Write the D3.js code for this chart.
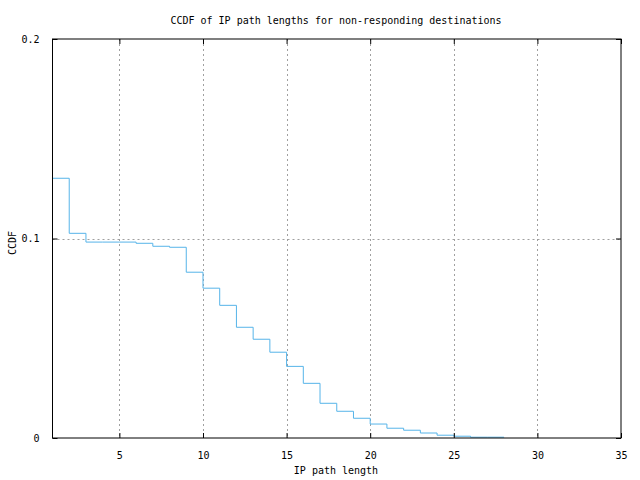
<!DOCTYPE html>
<html>
<head>
<meta charset="utf-8">
<script src="https://cdn.jsdelivr.net/npm/d3@7"></script>
<style>
body{margin:0;background:#fff;}
text{font-family:"DejaVu Sans Mono",monospace;font-size:10px;fill:#000;}
</style>
</head>
<body>
<svg id="c" width="640" height="480"></svg>
<script>
const pathLength = [1,2,3,4,5,6,7,8,9,10,11,12,13,14,15,16,17,18,19,20,21,22,23,24,25,26,27,28];
const ccdf = [0.1302,0.1026,0.0982,0.0982,0.0982,0.0976,0.0961,0.0956,0.0831,0.0751,0.0665,0.0555,0.0495,0.0430,0.0359,0.0274,0.0174,0.0134,0.0099,0.0070,0.0049,0.0039,0.0025,0.0014,0.0009,0.0004,0.0004,0.0003];
const xTicks = [5,10,15,20,25,30,35];
const yTicks = [0,0.1,0.2];
const yTickLabels = ["0","0.1","0.2"];
const title = "CCDF of IP path lengths for non-responding destinations";
const xLabel = "IP path length";
const yLabel = "CCDF";

const svg = d3.select("#c");
const L=52.5, R=621, T=39, B=438;
const x = d3.scaleLinear().domain([1,35]).range([L,R]);
const y = d3.scaleLinear().domain([0,0.2]).range([B,T]);

// grid
const g = svg.append("g");
xTicks.filter(t=>t<35).forEach(t=>{
  g.append("line").attr("x1",Math.round(x(t))+0.5).attr("x2",Math.round(x(t))+0.5)
   .attr("y1",T).attr("y2",B).attr("stroke","#a0a0a0").attr("stroke-width",1).attr("stroke-dasharray","2,3");
});
yTicks.filter(t=>t>0&&t<0.2).forEach(t=>{
  g.append("line").attr("x1",L).attr("x2",R).attr("y1",Math.round(y(t))+0.5).attr("y2",Math.round(y(t))+0.5)
   .attr("stroke","#a0a0a0").attr("stroke-width",1).attr("stroke-dasharray","2,3");
});

// data
const line = d3.line().x(d=>x(d[0])).y(d=>y(d[1])).curve(d3.curveStepAfter);
svg.append("path").datum(pathLength.map((v,i)=>[v,ccdf[i]]))
  .attr("d",line).attr("fill","none").attr("stroke","#56b4e9").attr("stroke-width",1);

// axes with inward ticks
const tl = 5;
const axB = svg.append("g").attr("transform",`translate(0,${B})`)
  .call(d3.axisBottom(x).tickValues(xTicks).tickSize(-tl).tickPadding(tl+9).tickFormat(d3.format("d")));
const axT = svg.append("g").attr("transform",`translate(0,${T})`)
  .call(d3.axisTop(x).tickValues(xTicks).tickSize(-tl).tickFormat(""));
const axL = svg.append("g").attr("transform",`translate(${L},0)`)
  .call(d3.axisLeft(y).tickValues(yTicks).tickSize(-tl).tickPadding(tl+8).tickFormat((d,i)=>yTickLabels[i]));
const axR = svg.append("g").attr("transform",`translate(${R},0)`)
  .call(d3.axisRight(y).tickValues(yTicks).tickSize(-tl).tickFormat(""));
[axB,axT,axL,axR].forEach(a=>{
  a.select(".domain").remove();
  a.selectAll("line").attr("stroke","#000");
  a.selectAll("text").attr("font-family","DejaVu Sans Mono").attr("font-size","10px").attr("fill","#000");
});

// frame
svg.append("rect").attr("x",L).attr("y",T).attr("width",R-L).attr("height",B-T)
  .attr("fill","none").attr("stroke","#000").attr("stroke-width",1);

svg.append("text").attr("x",336).attr("y",24).attr("text-anchor","middle").text(title);
svg.append("text").attr("x",336).attr("y",474).attr("text-anchor","middle").text(xLabel);
svg.append("text").attr("transform","translate(16,243) rotate(-90)").attr("text-anchor","middle").text(yLabel);
</script>
</body>
</html>
